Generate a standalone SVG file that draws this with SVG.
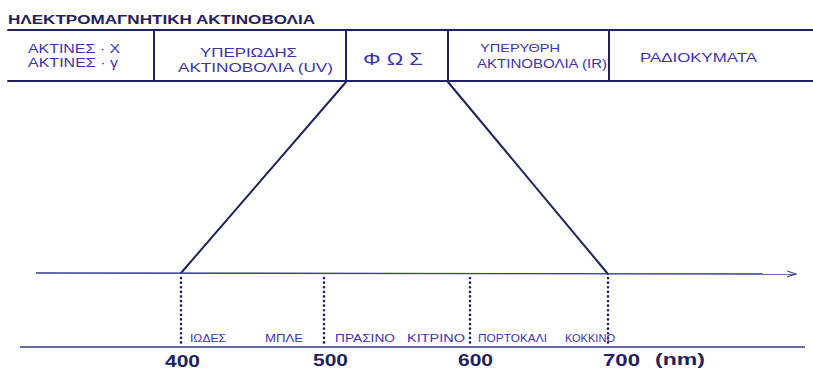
<svg xmlns="http://www.w3.org/2000/svg" width="813" height="372" viewBox="0 0 813 372">
<style>
.ln{stroke:#1f2163;stroke-width:2;fill:none;stroke-linecap:round}
.thin{stroke:#3a3a90;stroke-width:1.4;fill:none}
.dot{stroke:#1f2163;stroke-width:2.6;stroke-dasharray:0.1 4.5;stroke-linecap:round;fill:none}
.t{font-family:"Liberation Sans",Arial,sans-serif;fill:#3b33b4}
.title{font-family:"Liberation Sans",Arial,sans-serif;fill:#1f2163;font-weight:bold;font-size:13px}
.num{font-family:"Liberation Sans",Arial,sans-serif;fill:#1f2163;font-weight:bold;font-size:16px}
.s{font-size:11px}
.m{font-size:12px}
</style>
<defs>
<marker id="ah" markerWidth="10" markerHeight="8" refX="9" refY="4" orient="auto" markerUnits="userSpaceOnUse">
<path d="M0,1 L9,4 L0,7" fill="none" stroke="#3a3a90" stroke-width="1.2"/>
</marker>
</defs>
<rect width="813" height="372" fill="#ffffff"/>
<text class="title" x="8" y="24" textLength="307" lengthAdjust="spacingAndGlyphs">ΗΛΕΚΤΡΟΜΑΓΝΗΤΙΚΗ ΑΚΤΙΝΟΒΟΛΙΑ</text>
<g id="band">
<line class="ln" x1="8" y1="30" x2="813" y2="30"/>
<line class="ln" x1="8" y1="81" x2="813" y2="81"/>
</g>
<g id="xray">
<text class="t m" x="28" y="53" textLength="92" lengthAdjust="spacingAndGlyphs">ΑΚΤΙΝΕΣ · Χ</text>
<text class="t m" x="28" y="67" textLength="90" lengthAdjust="spacingAndGlyphs">ΑΚΤΙΝΕΣ · γ</text>
</g>
<g id="uv">
<line class="ln" x1="154" y1="30" x2="154" y2="81"/>
<text class="t m" x="200" y="57" textLength="97" lengthAdjust="spacingAndGlyphs">ΥΠΕΡΙΩΔΗΣ</text>
<text class="t m" x="178" y="72" textLength="155" lengthAdjust="spacingAndGlyphs">ΑΚΤΙΝΟΒΟΛΙΑ (UV)</text>
</g>
<g id="light">
<line class="ln" x1="346" y1="30" x2="346" y2="81"/>
<text class="t" x="363" y="65" font-size="17" textLength="60" lengthAdjust="spacingAndGlyphs">Φ Ω Σ</text>
</g>
<g id="ir">
<line class="ln" x1="448" y1="30" x2="448" y2="81"/>
<text class="t s" x="480" y="52" textLength="80" lengthAdjust="spacingAndGlyphs">ΥΠΕΡΥΘΡΗ</text>
<text class="t m" x="477" y="68" textLength="130" lengthAdjust="spacingAndGlyphs">ΑΚΤΙΝΟΒΟΛΙΑ (IR)</text>
</g>
<g id="radio">
<line class="ln" x1="609" y1="30" x2="609" y2="81"/>
<text class="t m" x="640" y="62" textLength="117" lengthAdjust="spacingAndGlyphs">ΡΑΔΙΟΚΥΜΑΤΑ</text>
</g>
<g id="connectors">
<line class="ln" x1="346" y1="82" x2="181" y2="273"/>
<line class="ln" x1="448" y1="82" x2="608" y2="274"/>
</g>
<g id="axis">
<line class="thin" x1="36" y1="273" x2="796" y2="274" marker-end="url(#ah)"/>
<line class="thin" x1="20" y1="347" x2="805" y2="347"/>
<line class="dot" x1="181" y1="278" x2="181" y2="345"/>
<line class="dot" x1="324" y1="278" x2="324" y2="345"/>
<line class="dot" x1="470" y1="278" x2="470" y2="345"/>
<line class="dot" x1="608" y1="278" x2="608" y2="345"/>
</g>
<g id="colours">
<text class="t s" x="190" y="342" textLength="36" lengthAdjust="spacingAndGlyphs">ΙΩΔΕΣ</text>
<text class="t s" x="265" y="342" textLength="38" lengthAdjust="spacingAndGlyphs">ΜΠΛΕ</text>
<text class="t s" x="335" y="342" textLength="60" lengthAdjust="spacingAndGlyphs">ΠΡΑΣΙΝΟ</text>
<text class="t s" x="407" y="342" textLength="58" lengthAdjust="spacingAndGlyphs">ΚΙΤΡΙΝΟ</text>
<text class="t s" x="478" y="342" textLength="69" lengthAdjust="spacingAndGlyphs">ΠΟΡΤΟΚΑΛΙ</text>
<text class="t s" x="565" y="342" textLength="50" lengthAdjust="spacingAndGlyphs">ΚΟΚΚΙΝΟ</text>
</g>
<g id="numbers">
<text class="num" x="165" y="367" textLength="35" lengthAdjust="spacingAndGlyphs">400</text>
<text class="num" x="313" y="366" textLength="35" lengthAdjust="spacingAndGlyphs">500</text>
<text class="num" x="458" y="366" textLength="35" lengthAdjust="spacingAndGlyphs">600</text>
<text class="num" x="603" y="366" textLength="37" lengthAdjust="spacingAndGlyphs">700</text>
<text class="num" x="655" y="365" textLength="50" lengthAdjust="spacingAndGlyphs">(nm)</text>
</g>
</svg>
